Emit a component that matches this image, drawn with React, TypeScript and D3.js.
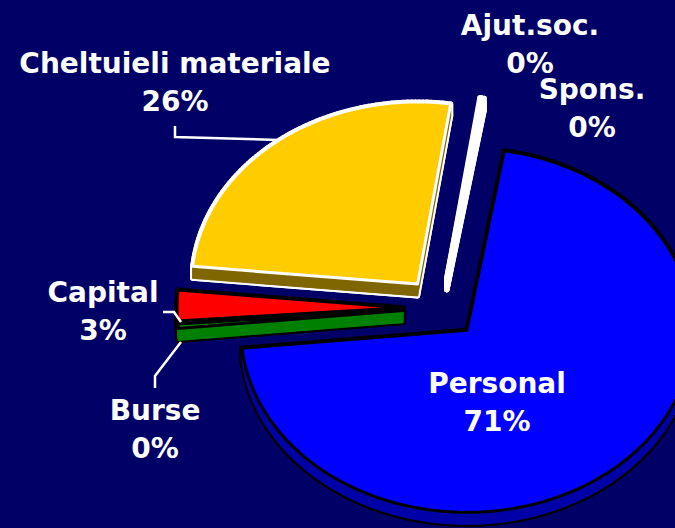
import React from "react";
import * as d3 from "d3";

/* -------------------- data -------------------- */
const categories = ["Personal", "Burse", "Capital", "Cheltuieli materiale", "Spons.", "Ajut.soc."];
const values = [70.8, 0.4, 2.7, 25.8, 0.1, 0.2];
const percentLabels = ["71%", "0%", "3%", "26%", "0%", "0%"];

/* -------------------- styles -------------------- */
const topColors = ["#0000ff", "#008000", "#ff0000", "#ffcc00", "#ff99ff", "#ffffff"];
const sideColors = ["#0000a8", "#008000", "#990000", "#806600", "#ffffff", "#ffffff"];
const edgeColors = ["#000000", "#000000", "#000000", "#ffffff", "#ffffff", "#ffffff"];

// label anchors (centre x, baseline of first line)
const labelPos: Record<string, [number, number]> = {
  "Personal": [497, 393],
  "Burse": [155, 420],
  "Capital": [103, 302],
  "Cheltuieli materiale": [175, 73],
  "Spons.": [592, 99],
  "Ajut.soc.": [530, 35],
};
// leader lines
const leaders: Record<string, [number, number][]> = {
  "Cheltuieli materiale": [[175, 126], [175, 137], [279, 140]],
  "Capital": [[163, 312], [174, 312], [181, 322]],
  "Burse": [[155, 388], [155, 376], [181, 342]],
};

const W = 675;
const H = 528;
const cx = 441;
const cy = 308;
const rx = 226;
const ry = 182;
const explode = 0.168;
const depth = 12;
const startDeg = 9.5;

type Pt = [number, number];

export default function App() {
  const pie = d3.pie<number>()
    .sort(null)
    .startAngle((startDeg * Math.PI) / 180)
    .endAngle((startDeg * Math.PI) / 180 + 2 * Math.PI);
  const arcs = pie(values);

  const line = d3.line<Pt>().curve(d3.curveLinearClosed);

  const slices = arcs.map((a, i) => {
    const mid = (a.startAngle + a.endAngle) / 2;
    const ox = explode * rx * Math.sin(mid);
    const oy = -explode * ry * Math.cos(mid);
    const proj = (t: number): Pt => [cx + ox + rx * Math.sin(t), cy + oy - ry * Math.cos(t)];
    const n = Math.max(2, Math.ceil(((a.endAngle - a.startAngle) * 180) / Math.PI));
    const ts = d3.range(n + 1).map(k => a.startAngle + ((a.endAngle - a.startAngle) * k) / n);
    const top: Pt[] = [[cx + ox, cy + oy], ...ts.map(proj)];
    const bottom: Pt[] = top.map(([x, y]) => [x, y + depth]);
    const quads: Pt[][] = top.map((p, k) => {
      const q = top[(k + 1) % top.length];
      return [p, q, [q[0], q[1] + depth], [p[0], p[1] + depth]];
    });
    return { i, mid, top, sides: [bottom, ...quads] };
  });

  // back slices first
  const order = [...slices].sort((a, b) => -Math.cos(a.mid) - -Math.cos(b.mid));

  const font = { fontFamily: "'DejaVu Sans', Verdana, sans-serif", fontWeight: 700, fontSize: 28 };

  return (
    <svg width={W} height={H} style={{ position: "absolute", left: 0, top: 0 }}>
      <rect width={W} height={H} fill="#000066" />

      {order.map(s => (
        <g key={categories[s.i]}>
          {/* side walls: outline of the union first, then the fill */}
          {s.sides.map((p, k) => (
            <path key={"o" + k} d={line(p) || ""} fill={edgeColors[s.i]} stroke={edgeColors[s.i]}
              strokeWidth={5} strokeLinejoin="round" />
          ))}
          {s.sides.map((p, k) => (
            <path key={"f" + k} d={line(p) || ""} fill={sideColors[s.i]} stroke={sideColors[s.i]}
              strokeWidth={0.6} />
          ))}
          {/* top face */}
          <path d={line(s.top) || ""} fill={topColors[s.i]} stroke={edgeColors[s.i]}
            strokeWidth={s.i === 4 ? 1 : 3} strokeLinejoin="round" />
        </g>
      ))}

      {/* leader lines */}
      {Object.entries(leaders).map(([k, pts]) => (
        <path key={k} d={d3.line()(pts) || ""} fill="none" stroke="#fff" strokeWidth={2.5} />
      ))}

      {/* labels */}
      {categories.map((c, i) => {
        const [x, y] = labelPos[c];
        return (
          <g key={c} fill="#fff" textAnchor="middle" style={font}>
            <text x={x} y={y}>{c}</text>
            <text x={x} y={y + 38}>{percentLabels[i]}</text>
          </g>
        );
      })}
    </svg>
  );
}
